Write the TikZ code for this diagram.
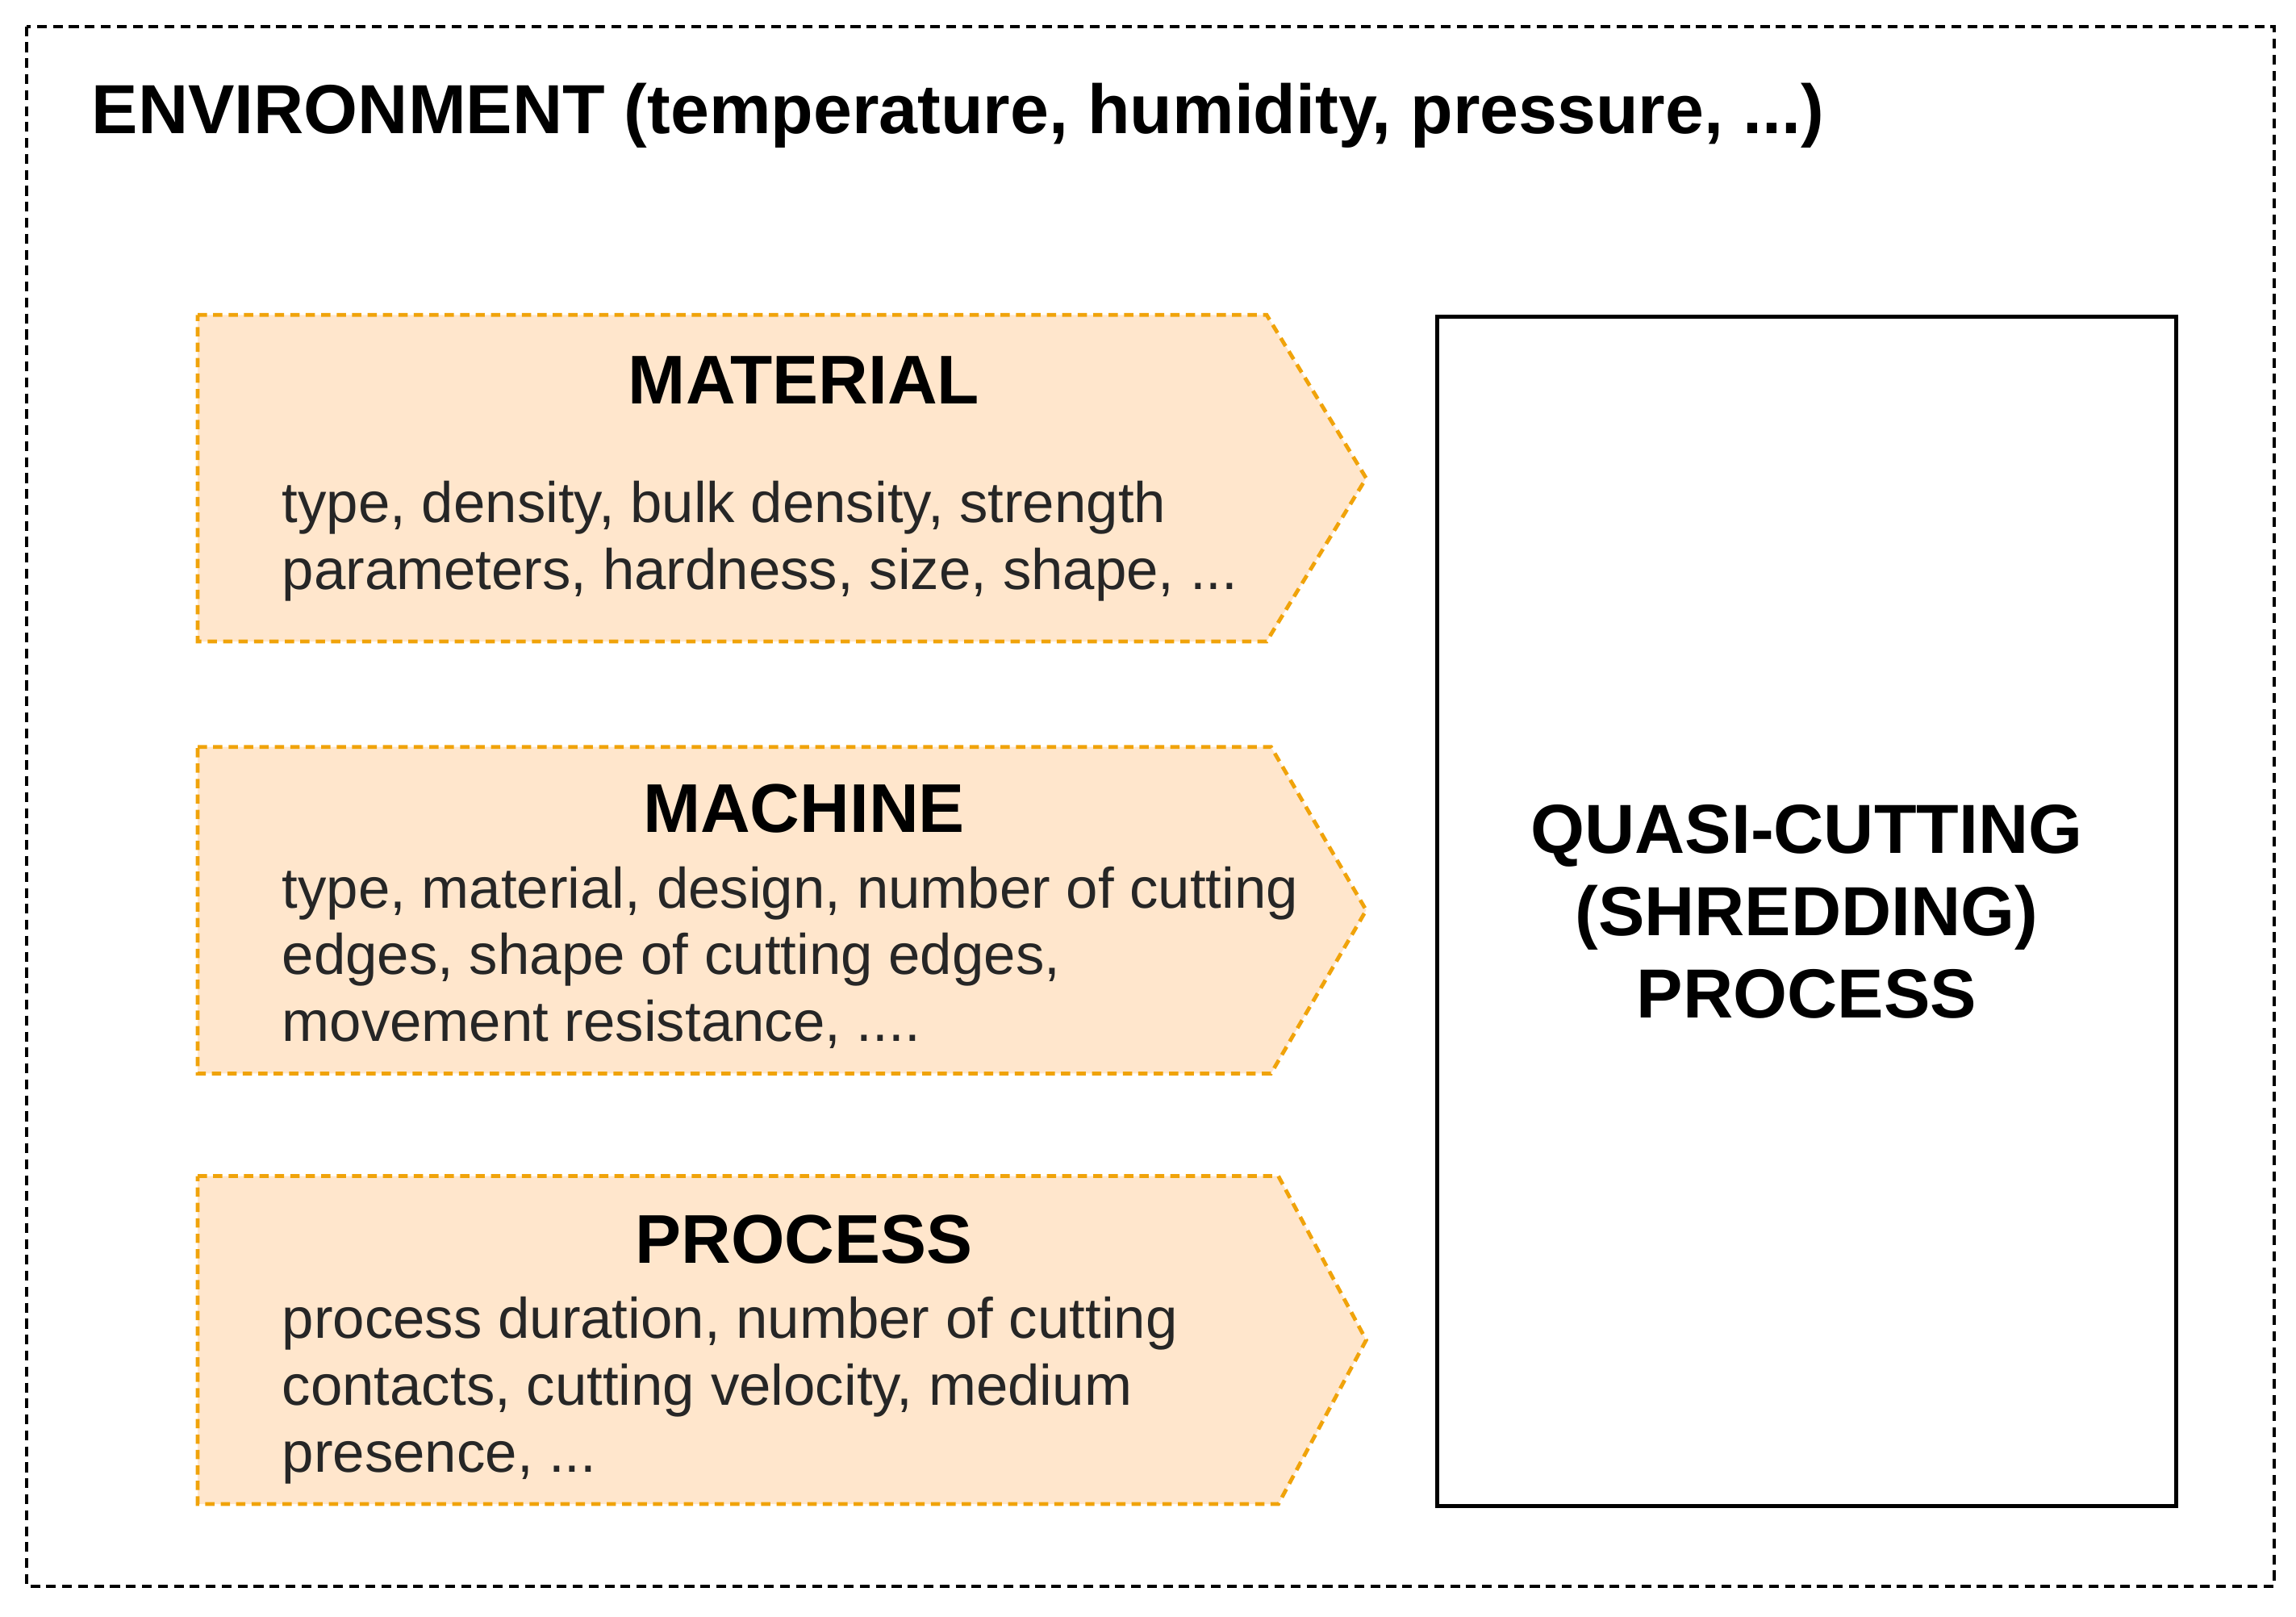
\documentclass[tikz,border=0pt]{standalone}
\usepackage{fontspec}
\setmainfont{Liberation Sans}
\definecolor{orfill}{HTML}{FFE6CC}
\definecolor{orline}{HTML}{F0A30A}
\definecolor{bodytext}{HTML}{262626}
\begin{document}
\begin{tikzpicture}[x=0.1mm,y=-0.1mm,
  envframe/.style={draw=black, line width=0.6pt, dash pattern=on 1.9pt off 1.2pt},
  factor/.style={fill=orfill, draw=orline, line width=0.75pt, dash pattern=on 1.8pt off 1.2pt, line join=miter},
  procbox/.style={draw=black, line width=0.75pt, align=center, inner sep=0pt,
    font=\fontsize{13.5}{16}\selectfont\bfseries},
  titletext/.style={font=\fontsize{13.4}{15.6}\selectfont\bfseries, anchor=base, inner sep=0pt},
  bodytxt/.style={font=\fontsize{11.1}{12.95}\selectfont, text=bodytext, align=left, anchor=base west, inner sep=0pt},
]
\useasboundingbox (0,0) rectangle (1568,1104);
\draw[envframe] (18,18) rectangle (1553,1083);
\node[anchor=base west, inner sep=0pt, font=\fontsize{13.5}{16}\selectfont\bfseries] (env) at (62,91)
  {ENVIRONMENT (temperature, humidity, pressure, ...)};

% MATERIAL
\path[factor] (135,215) -- (865,215) -- (933,326.5) -- (865,438) -- (135,438) -- cycle;
\node[titletext] (mattitle) at (549,275.5) {MATERIAL};
\node[bodytxt] (matbody) at (192,402.5) {type, density, bulk density, strength\\parameters, hardness, size, shape, ...};

% MACHINE
\path[factor] (135,510) -- (868,510) -- (933,621.5) -- (868,733) -- (135,733) -- cycle;
\node[titletext] (mactitle) at (549,568.5) {MACHINE};
\node[bodytxt] (macbody) at (192,711) {type, material, design, number of cutting\\edges, shape of cutting edges,\\movement resistance, ....};

% PROCESS
\path[factor] (135,803) -- (873,803) -- (933,915) -- (873,1027) -- (135,1027) -- cycle;
\node[titletext] (protitle) at (549,862.5) {PROCESS};
\node[bodytxt] (probody) at (192,1005) {process duration, number of cutting\\contacts, cutting velocity, medium\\presence, ...};

% QUASI-CUTTING box
\node[procbox, anchor=north west, minimum width=50.5mm, minimum height=81.2mm] (quasi) at (980,215)
  {QUASI-CUTTING\\(SHREDDING)\\PROCESS};
\end{tikzpicture}
\end{document}
